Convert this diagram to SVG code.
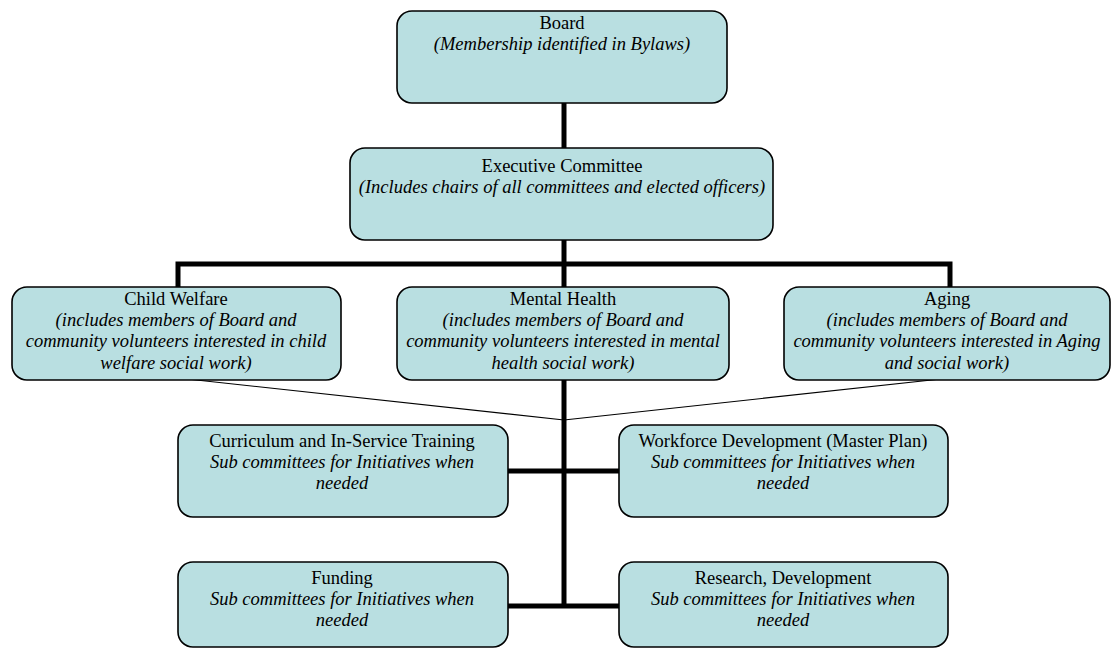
<svg xmlns="http://www.w3.org/2000/svg" width="1113" height="649" viewBox="0 0 1113 649">
<style>
.box{fill:#b9dfe1;stroke:#000;stroke-width:1.6}
.thick{stroke:#000;stroke-width:5;fill:none}
.thin{stroke:#000;stroke-width:1.2;fill:none}
.i{font-style:italic}
</style>
<rect width="1113" height="649" fill="#fff"/>
<g id="connectors">
<line class="thick" x1="564" y1="103" x2="564" y2="148"/>
<line class="thick" x1="564" y1="240" x2="564" y2="608"/>
<polyline class="thick" points="178,287 178,264 950,264 950,287"/>
<line class="thin" x1="178" y1="378" x2="564" y2="420"/>
<line class="thin" x1="950" y1="378" x2="564" y2="420"/>
<line class="thick" x1="508" y1="471" x2="619" y2="471"/>
<line class="thick" x1="508" y1="606" x2="619" y2="606"/>
</g>
<g font-family="'Liberation Serif', 'Times New Roman', 'DejaVu Serif', serif" font-size="18.5" text-anchor="middle" fill="#000">
<g id="board">
<rect class="box" x="397" y="11" width="330" height="92" rx="15"/>
<text x="562" y="29">Board</text>
<text class="i" x="562" y="50">(Membership identified in Bylaws)</text>
</g>
<g id="executive">
<rect class="box" x="350" y="148" width="423" height="92" rx="15"/>
<text x="562" y="172">Executive Committee</text>
<text class="i" x="562" y="193">(Includes chairs of all committees and elected officers)</text>
</g>
<g id="child-welfare">
<rect class="box" x="12" y="287" width="329" height="93" rx="15"/>
<text x="176" y="305">Child Welfare</text>
<text class="i" x="176" y="326">(includes members of Board and</text>
<text class="i" x="176" y="347">community volunteers interested in child</text>
<text class="i" x="176" y="369">welfare social work)</text>
</g>
<g id="mental-health">
<rect class="box" x="397" y="287" width="332" height="93" rx="15"/>
<text x="563" y="305">Mental Health</text>
<text class="i" x="563" y="326">(includes members of Board and</text>
<text class="i" x="563" y="347">community volunteers interested in mental</text>
<text class="i" x="563" y="369">health social work)</text>
</g>
<g id="aging">
<rect class="box" x="784" y="287" width="326" height="93" rx="15"/>
<text x="947" y="305">Aging</text>
<text class="i" x="947" y="326">(includes members of Board and</text>
<text class="i" x="947" y="347">community volunteers interested in Aging</text>
<text class="i" x="947" y="369">and social work)</text>
</g>
<g id="curriculum">
<rect class="box" x="178" y="425" width="330" height="92" rx="15"/>
<text x="342" y="447">Curriculum and In-Service Training</text>
<text class="i" x="342" y="468">Sub committees for Initiatives when</text>
<text class="i" x="342" y="489">needed</text>
</g>
<g id="workforce">
<rect class="box" x="619" y="425" width="329" height="92" rx="15"/>
<text x="783" y="447">Workforce Development (Master Plan)</text>
<text class="i" x="783" y="468">Sub committees for Initiatives when</text>
<text class="i" x="783" y="489">needed</text>
</g>
<g id="funding">
<rect class="box" x="178" y="562" width="330" height="85" rx="15"/>
<text x="342" y="584">Funding</text>
<text class="i" x="342" y="605">Sub committees for Initiatives when</text>
<text class="i" x="342" y="626">needed</text>
</g>
<g id="research">
<rect class="box" x="619" y="562" width="329" height="85" rx="15"/>
<text x="783" y="584">Research, Development</text>
<text class="i" x="783" y="605">Sub committees for Initiatives when</text>
<text class="i" x="783" y="626">needed</text>
</g>
</g>
</svg>
